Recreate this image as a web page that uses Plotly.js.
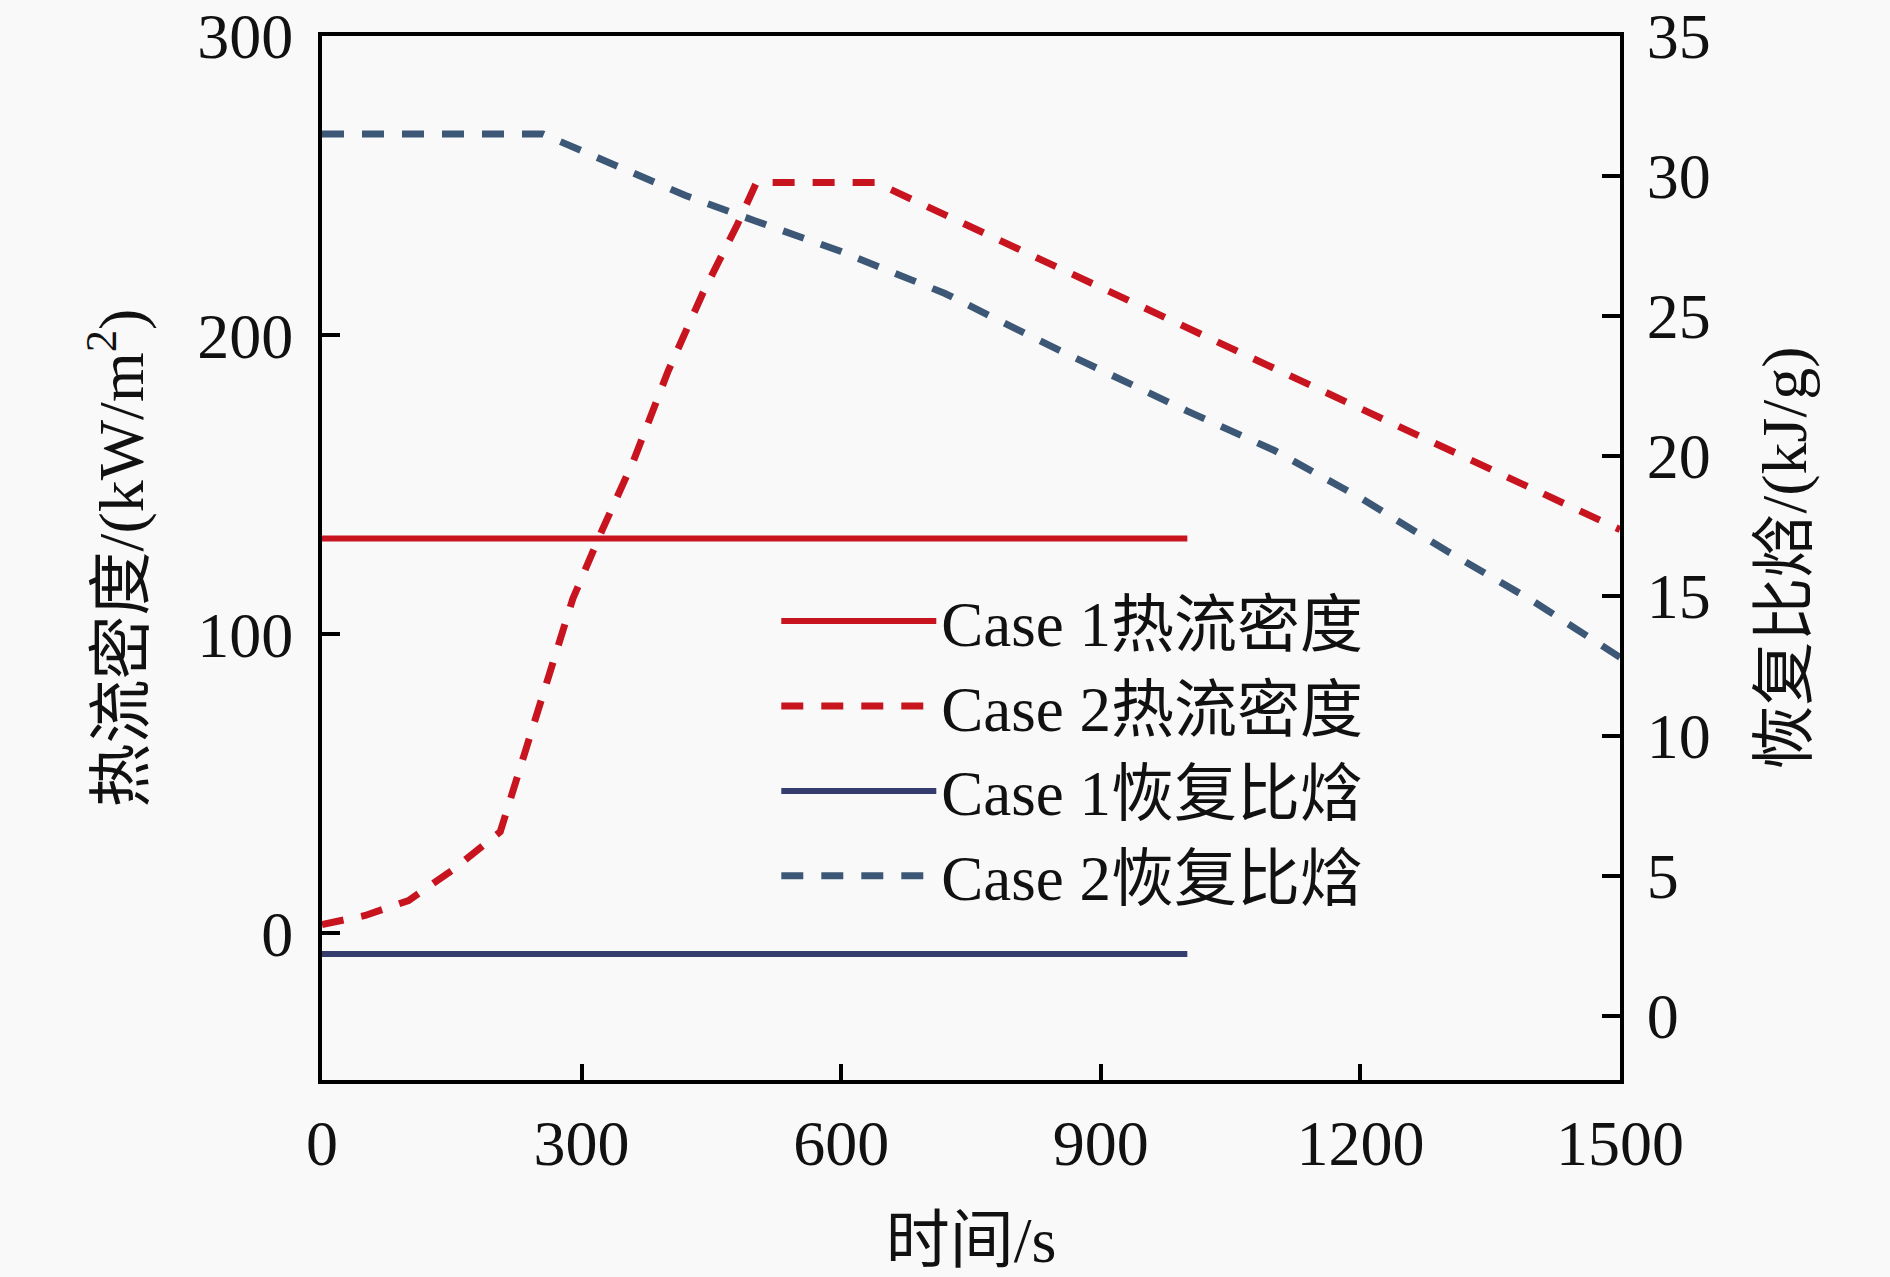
<!DOCTYPE html>
<html>
<head>
<meta charset="utf-8">
<script src="https://cdn.plot.ly/plotly-3.0.1.min.js"></script>
<style>
  html, body { margin: 0; padding: 0; background: #f9f9f9; }
  #chart { width: 1890px; height: 1277px; }
</style>
</head>
<body>
<div id="chart"></div>
<script>
// 时间 (s)
var t_case1 = [0, 1000];
var q_case1 = [132, 132]; // Case 1 热流密度, kW/m2
var h_case1 = [2.2, 2.2]; // Case 1 恢复比焓, kJ/g

var t_q2 = [0, 50, 100, 150, 206, 230, 260, 290, 324, 360, 400, 440, 480, 502, 640, 1500];
var q_case2 = [3, 6, 11, 21, 34, 56, 83, 112, 135, 158, 188, 214, 237, 251, 251, 135];

var t_h2 = [0, 255, 300, 420, 500, 600, 720, 850, 1000, 1100, 1200, 1300, 1400, 1500];
var h_case2 = [31.5, 31.5, 30.9, 29.3, 28.4, 27.3, 25.8, 23.8, 21.6, 20.2, 18.5, 16.6, 14.8, 12.8];

var names = ["Case 1热流密度", "Case 2热流密度", "Case 1恢复比焓", "Case 2恢复比焓"];

var x_ticks = [0, 300, 600, 900, 1200, 1500];
var y_ticks = [0, 100, 200, 300];
var y2_ticks = [0, 5, 10, 15, 20, 25, 30, 35];

var FONT = "Liberation Serif, 'Times New Roman', 'Noto Sans CJK SC', serif";
var RED = "#c8141f";
var NAVY = "#353c6e";
var GREYBLUE = "#3d5877";

var trace1 = {
  x: t_case1, y: q_case1, name: names[0],
  mode: "lines", type: "scatter",
  line: { color: RED, width: 6 }
};
var trace2 = {
  x: t_q2, y: q_case2, name: names[1],
  mode: "lines", type: "scatter",
  line: { color: RED, width: 7, dash: "22px,18px" }
};
var trace3 = {
  x: t_case1, y: h_case1, name: names[2], yaxis: "y2",
  mode: "lines", type: "scatter",
  line: { color: NAVY, width: 6 }
};
var trace4 = {
  x: t_h2, y: h_case2, name: names[3], yaxis: "y2",
  mode: "lines", type: "scatter",
  line: { color: GREYBLUE, width: 7, dash: "22px,18px" }
};

var data = [trace1, trace2, trace3, trace4];

var layout = {
  width: 1890,
  height: 1277,
  paper_bgcolor: "#f9f9f9",
  plot_bgcolor: "#f9f9f9",
  font: { family: FONT, size: 64, color: "#111" },
  margin: { l: 322, r: 270, t: 36, b: 197 },
  showlegend: true,
  legend: {
    x: 0.35, xanchor: "left",
    y: 0.485, yanchor: "top",
    bgcolor: "rgba(0,0,0,0)",
    itemwidth: 155,
    font: { family: FONT, size: 63, color: "#111" }
  },
  xaxis: {
    range: [0, 1500],
    tickvals: x_ticks,
    ticks: "inside", ticklen: 16, tickwidth: 4, tickcolor: "#000",
    showline: true, linewidth: 4, linecolor: "#000", mirror: true,
    showgrid: false, zeroline: false,
    ticklabelstandoff: 4,
    title: { text: "时间/s", standoff: 40, font: { family: FONT, size: 64 } }
  },
  yaxis: {
    range: [-49, 300],
    tickvals: y_ticks,
    ticks: "inside", ticklen: 18, tickwidth: 4, tickcolor: "#000",
    showline: true, linewidth: 4, linecolor: "#000",
    showgrid: false, zeroline: false,
    ticklabelstandoff: 12,
    title: { text: "热流密度/(kW/m<sup>2</sup>)", standoff: 34, font: { family: FONT, size: 64 } }
  },
  yaxis2: {
    range: [-2.3, 35],
    tickvals: y2_ticks,
    overlaying: "y", side: "right",
    ticks: "inside", ticklen: 18, tickwidth: 4, tickcolor: "#000",
    showline: true, linewidth: 4, linecolor: "#000",
    showgrid: false, zeroline: false,
    ticklabelstandoff: 10,
    title: { text: "恢复比焓/(kJ/g)", standoff: 52, font: { family: FONT, size: 64 } }
  }
};

Plotly.newPlot("chart", data, layout, { displayModeBar: false, staticPlot: true });
</script>
</body>
</html>
